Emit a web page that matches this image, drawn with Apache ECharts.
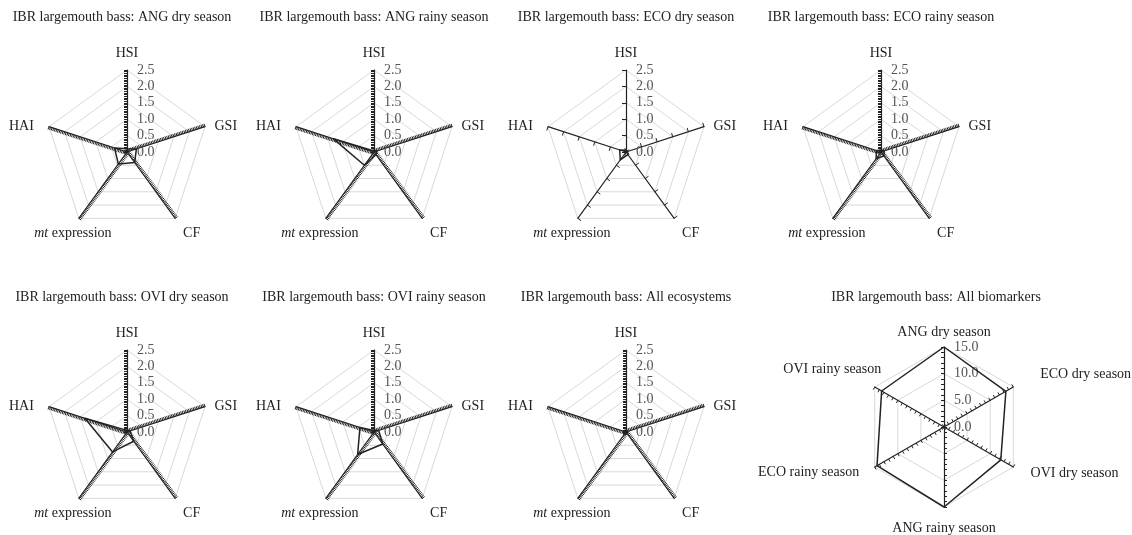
<!DOCTYPE html>
<html>
<head>
<meta charset="utf-8">
<script src="https://cdn.jsdelivr.net/npm/echarts@6/dist/echarts.min.js"></script>
<style>
html,body{margin:0;padding:0;background:#fff;}
#chart{width:1132px;height:535px;}
</style>
</head>
<body>
<div id="chart"></div>
<script>
// Biomarker axes (counter-clockwise from top)
const biomarkers = ['HSI', 'HAI', 'mt expression', 'CF', 'GSI'];
const biomarkerTicks = [0, 0.5, 1.0, 1.5, 2.0, 2.5];

const titles = [
  'IBR largemouth bass: ANG dry season',
  'IBR largemouth bass: ANG rainy season',
  'IBR largemouth bass: ECO dry season',
  'IBR largemouth bass: ECO rainy season',
  'IBR largemouth bass: OVI dry season',
  'IBR largemouth bass: OVI rainy season',
  'IBR largemouth bass: All ecosystems',
  'IBR largemouth bass: All biomarkers'
];

// values in biomarker order: HSI, HAI, mt expression, CF, GSI
const angDry   = [0.10, 0.40, 0.45, 0.40, 0.30];
const angRainy = [0.03, 1.30, 0.50, 0.10, 0.10];
const ecoDry   = [0.05, 0.20, 0.30, 0.10, 0.05];
const ecoRainy = [0.05, 0.15, 0.25, 0.15, 0.10];
const oviDry   = [0.05, 1.35, 0.75, 0.35, 0.10];
const oviRainy = [0.05, 0.45, 0.85, 0.45, 0.15];
const allEco   = [0.05, 0.08, 0.10, 0.05, 0.05];

// All biomarkers chart (counter-clockwise from top)
const sites = ['ANG dry season', 'OVI rainy season', 'ECO rainy season', 'ANG rainy season', 'OVI dry season', 'ECO dry season'];
const siteTicks = [0, 5, 10, 15];
const allBiomarkers = [15.0, 13.5, 14.5, 15.0, 12.3, 13.4];

const FONT = 'Liberation Serif';
const chart = echarts.init(document.getElementById('chart'));

// label placement per axis name (layout only)
const nameLayout = {
  'HSI':              {gap: 10, align: 'center', va: 'bottom', pad: [0,0,0,0]},
  'HAI':              {gap: 16, align: 'right',  va: 'middle', pad: [9,0,0,0]},
  'mt expression':    {gap: 10, align: 'center', va: 'top',    pad: [0,0,0,0]},
  'CF':               {gap: 10, align: 'left',   va: 'top',    pad: [0,0,0,2]},
  'GSI':              {gap: 10, align: 'left',   va: 'middle', pad: [6,0,0,0]},
  'ANG dry season':   {gap: 8,  align: 'center', va: 'bottom', pad: [0,0,0,0]},
  'OVI rainy season': {gap: 49, align: 'center', va: 'middle', pad: [13,0,0,0]},
  'ECO rainy season': {gap: 18, align: 'right',  va: 'middle', pad: [0,0,8,0]},
  'ANG rainy season': {gap: 14, align: 'center', va: 'top',    pad: [0,0,0,0]},
  'OVI dry season':   {gap: 20, align: 'left',   va: 'middle', pad: [0,0,8,0]},
  'ECO dry season':   {gap: 31, align: 'left',   va: 'middle', pad: [6,0,0,0]}
};

const panels = [
  {data: angDry,   cx: 127, cy: 152, minor: 10},
  {data: angRainy, cx: 374, cy: 152, minor: 10},
  {data: ecoDry,   cx: 626, cy: 152, minor: 1},
  {data: ecoRainy, cx: 881, cy: 152, minor: 10},
  {data: oviDry,   cx: 127, cy: 432, minor: 10},
  {data: oviRainy, cx: 374, cy: 432, minor: 10},
  {data: allEco,   cx: 626, cy: 432, minor: 10}
];

const radars = [];
const series = [];
const titleOpts = [];

function nameFmt(n){ return n === 'mt expression' ? '{i|mt} expression' : n; }
const nameStyle = {
  color: '#222', fontFamily: FONT, fontSize: 14,
  formatter: nameFmt,
  rich: {i: {fontStyle: 'italic', fontFamily: FONT, fontSize: 14, color: '#222'}}
};

function addPanel(names, ticks, values, cx, cy, radius, minor){
  const max = ticks[ticks.length - 1];
  const min = ticks[0];
  const splits = ticks.length - 1;
  // grid layer with names and tick labels
  radars.push({
    center: [cx, cy], radius: radius, shape: 'polygon', startAngle: 90,
    splitNumber: splits,
    indicator: names.map((n, i) => {
      const L = nameLayout[n];
      const ind = {name: n, min: min, max: max, nameGap: L.gap,
        nameTextStyle: {align: L.align, verticalAlign: L.va, padding: L.pad}};
      if (i === 0) ind.axisLabel = {show: true};
      return ind;
    }),
    axisName: nameStyle,
    nameGap: 8,
    splitLine: {lineStyle: {color: '#d9d9d9', width: 1}},
    splitArea: {show: false},
    axisLine: {show: false},
    axisTick: {show: false},
    axisLabel: {
      show: false, fontFamily: FONT, fontSize: 14, color: '#555',
      margin: -10, align: 'left', verticalAlign: 'middle',
      showMinLabel: true, showMaxLabel: true,
      formatter: v => v.toFixed(1)
    }
  });
  // tick layer
  radars.push({
    center: [cx, cy], radius: radius, shape: 'polygon', startAngle: 90,
    splitNumber: splits * minor,
    indicator: names.map(n => ({name: '', min: min, max: max})),
    axisName: {show: false},
    splitLine: {show: false},
    splitArea: {show: false},
    axisLine: {show: true, lineStyle: {color: '#222', width: 1.2}},
    axisTick: {show: true, length: minor > 1 ? 3 : 4, lineStyle: {color: '#222', width: 1}},
    axisLabel: {show: false}
  });
  series.push({
    type: 'radar', radarIndex: radars.length - 1, symbol: 'none', silent: true,
    lineStyle: {color: '#222', width: 1.5},
    data: [{value: values}]
  });
}

panels.forEach(p => addPanel(biomarkers, biomarkerTicks, p.data, p.cx, p.cy, 82, p.minor));
addPanel(sites, siteTicks, allBiomarkers, 944, 427, 80, 5);

const titlePos = [[122,10],[374,10],[626,10],[881,10],[122,290],[374,290],[626,290],[936,290]];
titles.forEach((t, i) => titleOpts.push({
  text: t, left: titlePos[i][0], top: titlePos[i][1], textAlign: 'center', padding: 0,
  textStyle: {fontFamily: FONT, fontSize: 14, fontWeight: 'normal', color: '#222'}
}));

chart.setOption({
  animation: false,
  backgroundColor: '#fff',
  title: titleOpts,
  radar: radars,
  series: series
});
</script>
</body>
</html>
